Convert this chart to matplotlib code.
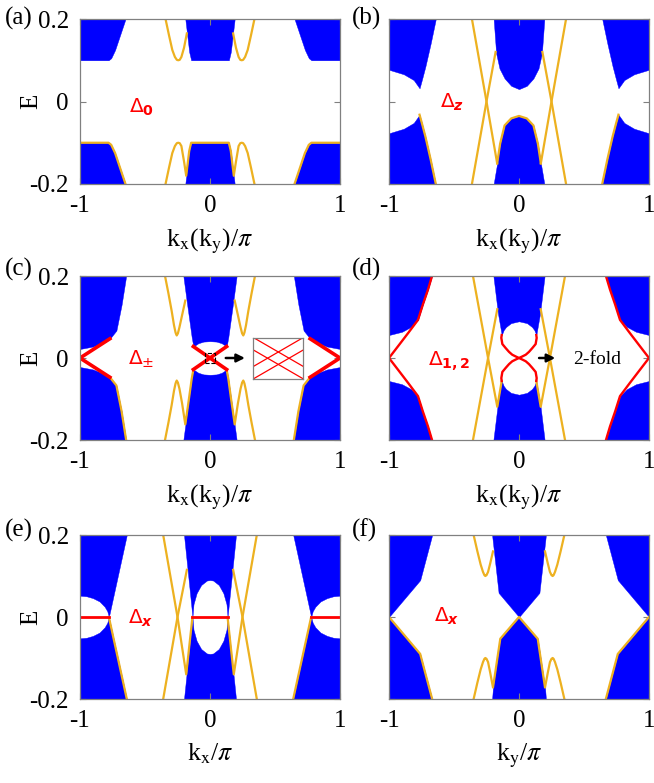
import matplotlib
matplotlib.use('Agg')
import matplotlib.pyplot as plt
from matplotlib.patches import Rectangle

plt.rcParams['font.family'] = ['Liberation Serif', 'DejaVu Serif']
plt.rcParams['mathtext.fontset'] = 'stix'

BLUE = '#0000FF'
ORANGE = '#EDB120'
RED = '#FF0000'
FRAME = '#808080'

E_TICKS = [-0.2, 0.0, 0.2]
E_TICK_LABELS = ['-0.2', '0', '0.2']
K_TICKS = [-1, 0, 1]
K_TICK_LABELS = ['-1', '0', '1']

# ---------------- panel (a) ----------------
A_BULK = [
    ([-1.0, -0.78, -0.76, -0.73, -0.65], [0.10, 0.10, 0.105, 0.125, 0.20], 0.2),
    ([-0.19, -0.16, -0.145, 0.145, 0.16, 0.19], [0.20, 0.12, 0.10, 0.10, 0.12, 0.20], 0.2),
    ([0.65, 0.73, 0.76, 0.78, 1.0], [0.20, 0.125, 0.105, 0.10, 0.10], 0.2),
    ([-1.0, -0.78, -0.76, -0.73, -0.65], -0.2, [-0.10, -0.10, -0.105, -0.125, -0.20]),
    ([-0.19, -0.16, -0.145, 0.145, 0.16, 0.19], -0.2, [-0.20, -0.12, -0.10, -0.10, -0.12, -0.20]),
    ([0.65, 0.73, 0.76, 0.78, 1.0], -0.2, [-0.20, -0.125, -0.105, -0.10, -0.10]),
]
A_ORANGE = [
    ([-0.342, -0.315, -0.29, -0.27, -0.255, -0.244, -0.233, -0.22, -0.2, -0.178],
     [0.2, 0.16, 0.125, 0.108, 0.101, 0.1, 0.101, 0.108, 0.13, 0.165]),
    ([0.178, 0.2, 0.22, 0.233, 0.244, 0.255, 0.27, 0.29, 0.315, 0.342],
     [0.165, 0.13, 0.108, 0.101, 0.1, 0.101, 0.108, 0.125, 0.16, 0.2]),
    ([-1.0, -0.78, -0.76, -0.73, -0.65], [-0.10, -0.10, -0.105, -0.125, -0.20]),
    ([0.65, 0.73, 0.76, 0.78, 1.0], [-0.20, -0.125, -0.105, -0.10, -0.10]),
    ([-0.342, -0.315, -0.29, -0.27, -0.255, -0.244, -0.233, -0.22, -0.2, -0.183, -0.16, -0.145,
      0.145, 0.16, 0.183, 0.2, 0.22, 0.233, 0.244, 0.255, 0.27, 0.29, 0.315, 0.342],
     [-0.2, -0.16, -0.125, -0.108, -0.101, -0.1, -0.101, -0.108, -0.145, -0.18, -0.12, -0.1,
      -0.1, -0.12, -0.18, -0.145, -0.108, -0.101, -0.1, -0.101, -0.108, -0.125, -0.16, -0.2]),
]
A_RED = []

# ---------------- panel (b) ----------------
B_BULK = [
    ([-1.0, -0.886, -0.81, -0.765, -0.745, -0.72, -0.68, -0.64],
     [0.077, 0.066, 0.052, 0.032, 0.055, 0.085, 0.14, 0.2], 0.2),
    ([-0.195, -0.176, -0.15, -0.111, -0.06, 0.0, 0.06, 0.111, 0.15, 0.176, 0.195],
     [0.2, 0.117, 0.08, 0.056, 0.038, 0.03, 0.038, 0.056, 0.08, 0.117, 0.2], 0.2),
    ([0.64, 0.68, 0.72, 0.745, 0.765, 0.81, 0.886, 1.0],
     [0.2, 0.14, 0.085, 0.055, 0.032, 0.052, 0.066, 0.077], 0.2),
    ([-1.0, -0.886, -0.81, -0.765, -0.745, -0.72, -0.68, -0.64], -0.2,
     [-0.077, -0.066, -0.052, -0.032, -0.055, -0.085, -0.14, -0.2]),
    ([-0.195, -0.18, -0.168, -0.145, -0.111, -0.06, 0.0, 0.06, 0.111, 0.145, 0.168, 0.18, 0.195], -0.2,
     [-0.2, -0.172, -0.15, -0.102, -0.058, -0.041, -0.035, -0.041, -0.058, -0.102, -0.15, -0.172, -0.2]),
    ([0.64, 0.68, 0.72, 0.745, 0.765, 0.81, 0.886, 1.0], -0.2,
     [-0.2, -0.14, -0.085, -0.055, -0.032, -0.052, -0.066, -0.077]),
]
B_ORANGE = [
    ([-0.765, -0.745, -0.72, -0.68, -0.64], [-0.032, -0.055, -0.085, -0.14, -0.2]),
    ([0.64, 0.68, 0.72, 0.745, 0.765], [-0.2, -0.14, -0.085, -0.055, -0.032]),
    ([-0.362, -0.25, -0.168], [0.2, 0.0, -0.15]),
    ([-0.362, -0.25, -0.18], [-0.2, 0.0, 0.12]),
    ([0.362, 0.25, 0.168], [0.2, 0.0, -0.15]),
    ([0.362, 0.25, 0.18], [-0.2, 0.0, 0.12]),
    ([-0.168, -0.145, -0.111, -0.06, 0.0, 0.06, 0.111, 0.145, 0.168],
     [-0.15, -0.102, -0.058, -0.041, -0.035, -0.041, -0.058, -0.102, -0.15]),
]
B_RED = []

# ---------------- panel (c) ----------------
C_BULK = [
    ([-1.0, -0.9, -0.8, -0.77, -0.72, -0.68, -0.645],
     [0.022, 0.028, 0.04, 0.047, 0.067, 0.13, 0.2], 0.2),
    ([-0.205, -0.18, -0.141, -0.128, -0.09, -0.05, 0.0, 0.05, 0.09, 0.128, 0.141, 0.18, 0.205],
     [0.2, 0.14, 0.051, 0.028, 0.036, 0.040, 0.041, 0.040, 0.036, 0.028, 0.051, 0.14, 0.2], 0.2),
    ([0.645, 0.68, 0.72, 0.77, 0.8, 0.9, 1.0],
     [0.2, 0.13, 0.067, 0.047, 0.04, 0.028, 0.022], 0.2),
    ([-1.0, -0.9, -0.8, -0.77, -0.72, -0.68, -0.645], -0.2,
     [-0.022, -0.028, -0.04, -0.047, -0.067, -0.13, -0.2]),
    ([-0.205, -0.18, -0.141, -0.128, -0.09, -0.05, 0.0, 0.05, 0.09, 0.128, 0.141, 0.18, 0.205], -0.2,
     [-0.2, -0.14, -0.051, -0.028, -0.036, -0.040, -0.041, -0.040, -0.036, -0.028, -0.051, -0.14, -0.2]),
    ([0.645, 0.68, 0.72, 0.77, 0.8, 0.9, 1.0], -0.2,
     [-0.2, -0.13, -0.067, -0.047, -0.04, -0.028, -0.022]),
]
C_ORANGE = [
    ([-0.346, -0.32, -0.295, -0.277, -0.265, -0.256, -0.247, -0.235, -0.215, -0.19],
     [0.2, 0.158, 0.115, 0.08, 0.062, 0.055, 0.06, 0.075, 0.104, 0.14]),
    ([0.19, 0.215, 0.235, 0.247, 0.256, 0.265, 0.277, 0.295, 0.32, 0.346],
     [0.14, 0.104, 0.075, 0.06, 0.055, 0.062, 0.08, 0.115, 0.158, 0.2]),
    ([-0.77, -0.72, -0.68, -0.645], [-0.047, -0.067, -0.13, -0.2]),
    ([0.645, 0.68, 0.72, 0.77], [-0.2, -0.13, -0.067, -0.047]),
    ([-0.346, -0.32, -0.295, -0.277, -0.265, -0.256, -0.247, -0.235, -0.215, -0.19, -0.16, -0.141, -0.128],
     [-0.2, -0.158, -0.115, -0.08, -0.062, -0.055, -0.06, -0.075, -0.11, -0.162, -0.095, -0.051, -0.028]),
    ([0.128, 0.141, 0.16, 0.19, 0.215, 0.235, 0.247, 0.256, 0.265, 0.277, 0.295, 0.32, 0.346],
     [-0.028, -0.051, -0.095, -0.162, -0.11, -0.075, -0.06, -0.055, -0.062, -0.08, -0.115, -0.158, -0.2]),
]
C_RED = [
    ([-0.77, -1.0, -0.77], [0.047, 0.0, -0.047]),
    ([0.77, 1.0, 0.77], [0.047, 0.0, -0.047]),
    ([-0.128, 0.128], [0.028, -0.028]),
    ([-0.128, 0.128], [-0.028, 0.028]),
]
INSET_X = [0.0, 1.0]
INSET_LINES = [[1.0, 0.3], [0.3, 1.0], [0.7, 0.0], [0.0, 0.7]]

# ---------------- panel (d) ----------------
D_BULK = [
    ([-1.0, -0.9, -0.83, -0.777, -0.74, -0.7, -0.669],
     [0.056, 0.064, 0.076, 0.093, 0.13, 0.167, 0.2], 0.2),
    ([-0.197, -0.162, -0.133, -0.118, -0.1, -0.0615, 0.0, 0.0615, 0.1, 0.118, 0.133, 0.162, 0.197],
     [0.2, 0.109, 0.056, 0.068, 0.0757, 0.085, 0.0895, 0.085, 0.0757, 0.068, 0.056, 0.109, 0.2], 0.2),
    ([0.669, 0.7, 0.74, 0.777, 0.83, 0.9, 1.0],
     [0.2, 0.167, 0.13, 0.093, 0.076, 0.064, 0.056], 0.2),
    ([-1.0, -0.9, -0.83, -0.777, -0.74, -0.7, -0.669], -0.2,
     [-0.056, -0.064, -0.076, -0.093, -0.13, -0.167, -0.2]),
    ([-0.197, -0.162, -0.133, -0.118, -0.1, -0.0615, 0.0, 0.0615, 0.1, 0.118, 0.133, 0.162, 0.197], -0.2,
     [-0.2, -0.109, -0.056, -0.068, -0.0757, -0.085, -0.0895, -0.085, -0.0757, -0.068, -0.056, -0.109, -0.2]),
    ([0.669, 0.7, 0.74, 0.777, 0.83, 0.9, 1.0], -0.2,
     [-0.2, -0.167, -0.13, -0.093, -0.076, -0.064, -0.056]),
]
D_ORANGE = [
    ([-0.354, -0.238, -0.167, -0.133], [0.2, 0.0, -0.119, -0.056]),
    ([-0.354, -0.238, -0.167], [-0.2, 0.0, 0.119]),
    ([0.354, 0.238, 0.167, 0.133], [0.2, 0.0, -0.119, -0.056]),
    ([0.354, 0.238, 0.167], [-0.2, 0.0, 0.119]),
]
D_RED = [
    ([-0.669, -0.7, -0.74, -0.777, -0.85, -0.92, -1.0, -0.92, -0.85, -0.777, -0.74, -0.7, -0.669],
     [0.2, 0.167, 0.13, 0.093, 0.062, 0.033, 0.0, -0.033, -0.062, -0.093, -0.13, -0.167, -0.2]),
    ([0.669, 0.7, 0.74, 0.777, 0.85, 0.92, 1.0, 0.92, 0.85, 0.777, 0.74, 0.7, 0.669],
     [0.2, 0.167, 0.13, 0.093, 0.062, 0.033, 0.0, -0.033, -0.062, -0.093, -0.13, -0.167, -0.2]),
    ([-0.133, -0.136, -0.128, -0.102, -0.077, -0.052, -0.025, 0.0, 0.025, 0.052, 0.077, 0.102, 0.128, 0.136, 0.133],
     [0.056, 0.049, 0.034, 0.024, 0.015, 0.008, 0.0037, 0.0, 0.0037, 0.008, 0.015, 0.024, 0.034, 0.049, 0.056]),
    ([-0.133, -0.136, -0.128, -0.102, -0.077, -0.052, -0.025, 0.0, 0.025, 0.052, 0.077, 0.102, 0.128, 0.136, 0.133],
     [-0.056, -0.049, -0.034, -0.024, -0.015, -0.008, -0.0037, 0.0, -0.0037, -0.008, -0.015, -0.024, -0.034, -0.049, -0.056]),
]

# ---------------- panel (e) ----------------
E_BULK = [
    ([-1.0, -0.95, -0.9, -0.85, -0.81, -0.79, -0.778, -0.64],
     [0.052, 0.0506, 0.046, 0.038, 0.025, 0.014, 0.0, 0.2], 0.2),
    ([-0.2, -0.135, -0.127, -0.103, -0.068, -0.024, 0.0, 0.024, 0.068, 0.103, 0.127, 0.135, 0.2],
     [0.2, 0.0, 0.031, 0.058, 0.078, 0.089, 0.09, 0.089, 0.078, 0.058, 0.031, 0.0, 0.2], 0.2),
    ([0.64, 0.778, 0.79, 0.81, 0.85, 0.9, 0.95, 1.0],
     [0.2, 0.0, 0.014, 0.025, 0.038, 0.046, 0.0506, 0.052], 0.2),
    ([-1.0, -0.95, -0.9, -0.85, -0.81, -0.79, -0.778, -0.64], -0.2,
     [-0.052, -0.0506, -0.046, -0.038, -0.025, -0.014, 0.0, -0.2]),
    ([-0.2, -0.135, -0.127, -0.103, -0.068, -0.024, 0.0, 0.024, 0.068, 0.103, 0.127, 0.135, 0.2], -0.2,
     [-0.2, 0.0, -0.031, -0.058, -0.078, -0.089, -0.09, -0.089, -0.078, -0.058, -0.031, 0.0, -0.2]),
    ([0.64, 0.778, 0.79, 0.81, 0.85, 0.9, 0.95, 1.0], -0.2,
     [-0.2, 0.0, -0.014, -0.025, -0.038, -0.046, -0.0506, -0.052]),
]
E_ORANGE = [
    ([-0.778, -0.64], [0.0, -0.2]),
    ([0.778, 0.64], [0.0, -0.2]),
    ([-0.36, -0.25, -0.183, -0.135], [0.2, 0.0, -0.14, 0.0]),
    ([-0.36, -0.25, -0.178], [-0.2, 0.0, 0.115]),
    ([0.36, 0.25, 0.183, 0.135], [0.2, 0.0, -0.14, 0.0]),
    ([0.36, 0.25, 0.178], [-0.2, 0.0, 0.115]),
]
E_RED = [
    ([-1.0, -0.778], [0.0, 0.0]),
    ([-0.135, 0.135], [0.0, 0.0]),
    ([0.778, 1.0], [0.0, 0.0]),
]

# ---------------- panel (f) ----------------
F_BULK = [
    ([-1.0, -0.76, -0.668], [0.0, 0.09, 0.2], 0.2),
    ([-0.207, -0.157, 0.0, 0.157, 0.207], [0.2, 0.059, 0.0, 0.059, 0.2], 0.2),
    ([0.668, 0.76, 1.0], [0.2, 0.09, 0.0], 0.2),
    ([-1.0, -0.76, -0.668], -0.2, [0.0, -0.09, -0.2]),
    ([-0.207, -0.2, -0.144, 0.0, 0.144, 0.2, 0.207], -0.2, [-0.2, -0.172, -0.053, 0.0, -0.053, -0.172, -0.2]),
    ([0.668, 0.76, 1.0], -0.2, [-0.2, -0.09, 0.0]),
]
F_ORANGE = [
    ([-1.0, -0.76, -0.668], [0.0, -0.09, -0.2]),
    ([0.668, 0.76, 1.0], [-0.2, -0.09, 0.0]),
    ([-0.349, -0.32, -0.295, -0.277, -0.266, -0.259, -0.25, -0.238, -0.222, -0.2],
     [0.2, 0.16, 0.128, 0.11, 0.102, 0.1, 0.102, 0.11, 0.13, 0.16]),
    ([0.2, 0.222, 0.238, 0.25, 0.259, 0.266, 0.277, 0.295, 0.32, 0.349],
     [0.16, 0.13, 0.11, 0.102, 0.1, 0.102, 0.11, 0.128, 0.16, 0.2]),
    ([-0.349, -0.32, -0.295, -0.277, -0.266, -0.259, -0.25, -0.238, -0.222, -0.2, -0.144, 0.0,
      0.144, 0.2, 0.222, 0.238, 0.25, 0.259, 0.266, 0.277, 0.295, 0.32, 0.349],
     [-0.2, -0.16, -0.128, -0.11, -0.102, -0.1, -0.102, -0.11, -0.135, -0.172, -0.053, 0.0,
      -0.053, -0.172, -0.135, -0.11, -0.102, -0.1, -0.102, -0.11, -0.128, -0.16, -0.2]),
]
F_RED = []

XLABEL_MIX = r'k$_\mathrm{x}$(k$_\mathrm{y}$)/$\pi$'
XLABEL_KX = r'k$_\mathrm{x}$/$\pi$'
XLABEL_KY = r'k$_\mathrm{y}$/$\pi$'

W, H = 654, 783
fig = plt.figure(figsize=(W / 100, H / 100), dpi=100)


def make_axes(left, top, width, height):
    return fig.add_axes([left / W, 1 - (top + height) / H, width / W, height / H])


def draw(ax, bulk, orange, red, red_lw, left_col, xlabel):
    for k, lo, hi in bulk:
        ax.fill_between(k, lo, hi, color=BLUE, lw=0.3, zorder=1)
    for k, e in orange:
        ax.plot(k, e, color=ORANGE, lw=1.6, zorder=3)
    for k, e in red:
        ax.plot(k, e, color=RED, lw=red_lw, zorder=4)
    ax.set_xlim(-1, 1)
    ax.set_ylim(-0.2, 0.2)
    ax.set_xticks(K_TICKS)
    ax.set_xticklabels(K_TICK_LABELS)
    ax.set_yticks(E_TICKS)
    if left_col:
        ax.set_yticklabels(E_TICK_LABELS)
        ax.set_ylabel('E', fontsize=18)
        ax.yaxis.set_label_coords(-0.146, 0.5)
    else:
        ax.set_yticklabels([])
    ax.set_xlabel(xlabel, fontsize=18.5, labelpad=7)
    ax.tick_params(direction='in', length=4, width=0.8, color=FRAME, labelsize=18,
                   top=True, right=True, pad=8)
    for s in ax.spines.values():
        s.set_color(FRAME)
        s.set_linewidth(0.9)
        s.set_zorder(5)


LX, RX, AW = 80, 389, 260
ax_a = make_axes(LX, 19, AW, 165)
ax_b = make_axes(RX, 19, AW, 165)
ax_c = make_axes(LX, 276, AW, 164)
ax_d = make_axes(RX, 276, AW, 164)
ax_e = make_axes(LX, 535, AW, 164)
ax_f = make_axes(RX, 535, AW, 164)

draw(ax_a, A_BULK, A_ORANGE, A_RED, 2.0, True, XLABEL_MIX)
draw(ax_b, B_BULK, B_ORANGE, B_RED, 2.0, False, XLABEL_MIX)
draw(ax_c, C_BULK, C_ORANGE, C_RED, 2.6, True, XLABEL_MIX)
draw(ax_d, D_BULK, D_ORANGE, D_RED, 1.7, False, XLABEL_MIX)
draw(ax_e, E_BULK, E_ORANGE, E_RED, 2.0, True, XLABEL_KX)
draw(ax_f, F_BULK, F_ORANGE, F_RED, 2.0, False, XLABEL_KY)

# Delta labels
lab_kw = dict(color=RED, fontsize=14.5, math_fontfamily='dejavusans', va='baseline', ha='left', zorder=6)
ax_a.text(-0.623, -0.026, r'$\Delta_{\mathbf{0}}$', **lab_kw)
ax_b.text(-0.605, -0.016, r'$\Delta_{\boldsymbol{z}}$', **lab_kw)
ax_c.text(-0.628, -0.016, r'$\Delta_{\pm}$', **lab_kw)
ax_d.text(-0.70, -0.0195, r'$\Delta_{\mathbf{1,2}}$', **lab_kw)
ax_e.text(-0.628, -0.0165, r'$\Delta_{\boldsymbol{x}}$', **lab_kw)
ax_f.text(-0.655, -0.0117, r'$\Delta_{\boldsymbol{x}}$', **lab_kw)

# panel (c) extras
ax_c.add_patch(Rectangle((-0.038, -0.012), 0.076, 0.024, fill=False, ls='--', lw=0.8,
                         ec='k', zorder=6))
ax_c.annotate('', xy=(0.29, 0.0), xytext=(0.10, 0.0),
              arrowprops=dict(arrowstyle='-|>', color='k', lw=1.8, mutation_scale=12), zorder=6)
ins = ax_c.inset_axes([0.333, -0.051, 0.385, 0.101], transform=ax_c.transData)
for ys in INSET_LINES:
    ins.plot(INSET_X, ys, color=RED, lw=0.9)
ins.set_xlim(0, 1)
ins.set_ylim(0, 1)
ins.set_xticks([])
ins.set_yticks([])
for s in ins.spines.values():
    s.set_color(FRAME)
    s.set_linewidth(0.9)

# panel (d) extras
ax_d.annotate('', xy=(0.30, 0.0), xytext=(0.133, 0.0),
              arrowprops=dict(arrowstyle='-|>', color='k', lw=1.8, mutation_scale=12), zorder=6)
ax_d.text(0.415, -0.003, '2-fold', fontsize=14, va='center', ha='left', zorder=6)

# panel labels
for x, y, s in [(5, 18, '(a)'), (352, 18, '(b)'), (5, 269, '(c)'), (352, 269, '(d)'),
                (5, 530, '(e)'), (352, 530, '(f)')]:
    fig.text(x / W, 1 - y / H, s, fontsize=18, va='center', ha='left')

fig.savefig('out.png', dpi=100)
